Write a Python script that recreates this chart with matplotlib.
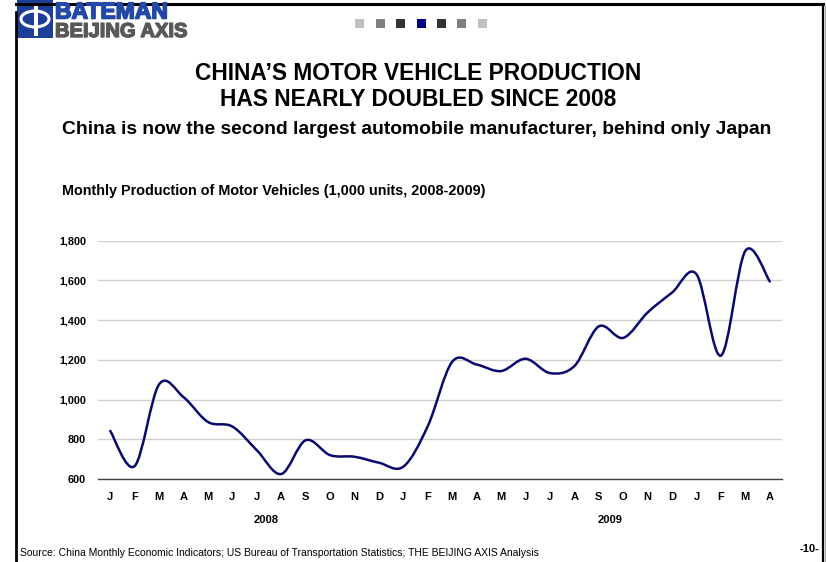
import numpy as np
import matplotlib.pyplot as plt
import matplotlib.patheffects as pe
from matplotlib.path import Path
from matplotlib.patches import PathPatch, Rectangle, Ellipse
from matplotlib.lines import Line2D

plt.rcParams['font.family'] = ['Liberation Sans', 'DejaVu Sans']

# monthly production of motor vehicles, 1,000 units
months = ['J', 'F', 'M', 'A', 'M', 'J', 'J', 'A', 'S', 'O', 'N', 'D',
          'J', 'F', 'M', 'A', 'M', 'J', 'J', 'A', 'S', 'O', 'N', 'D',
          'J', 'F', 'M', 'A']
production = [842, 665, 1076, 1012, 887, 864, 745, 625, 795, 720, 712, 682,
              662, 866, 1190, 1176, 1143, 1205, 1133, 1168, 1368, 1310, 1438, 1538,
              1630, 1221, 1748, 1594]
yticks = [600, 800, 1000, 1200, 1400, 1600, 1800]
years = ['2008', '2009']
year_pos = [6.4, 20.45]


def smooth_path(x, y):
    # bezier segments through every point (excel-like smoothed line)
    pts = np.column_stack([x, y]).astype(float)
    n = len(pts)
    verts = [pts[0]]
    codes = [Path.MOVETO]
    for i in range(n - 1):
        p0 = pts[i - 1] if i > 0 else pts[i]
        p1 = pts[i]
        p2 = pts[i + 1]
        p3 = pts[i + 2] if i + 2 < n else pts[i + 1]
        c1 = p1 + (p2 - p0) / 6.0
        c2 = p2 - (p3 - p1) / 6.0
        verts += [c1, c2, p2]
        codes += [Path.CURVE4] * 3
    return Path(verts, codes)


W, H = 826, 562
fig = plt.figure(figsize=(W / 100, H / 100), dpi=100)


def fx(px):
    return px / W


def fy(py):
    return 1 - py / H


# frame
fig.add_artist(Line2D([fx(16), fx(16)], [fy(12), fy(561)], color='black', lw=2))
fig.add_artist(Line2D([fx(16), fx(823)], [fy(4), fy(4)], color='black', lw=2.2))
fig.add_artist(Line2D([fx(823), fx(823)], [fy(4), fy(561)], color='black', lw=1.6))
fig.add_artist(Line2D([fx(825), fx(825)], [fy(6), fy(561)], color='#a0a0a0', lw=1))

# logo
fig.add_artist(Rectangle((0, fy(40)), fx(192), fy(0) - fy(40), facecolor='white', edgecolor='none'))
fig.add_artist(Rectangle((fx(17), fy(38)), fx(53) - fx(17), fy(0) - fy(38), facecolor='#1d3f9a', edgecolor='none'))
fig.add_artist(Ellipse((fx(35), fy(19)), fx(28), fy(0) - fy(16), facecolor='none', edgecolor='white', lw=2.2))
fig.add_artist(Rectangle((fx(33.5), fy(36)), fx(4), fy(0) - fy(33), facecolor='white', edgecolor='none'))
fig.text(fx(55), fy(18.5), 'BATEMAN', fontsize=16.5, fontweight='bold', color='#2448a8', va='baseline', ha='left',
         path_effects=[pe.withStroke(linewidth=1.2, foreground='#2448a8')])
fig.text(fx(55), fy(37), 'BEIJING AXIS', fontsize=14.5, fontweight='bold', color='#585858', va='baseline', ha='left',
         path_effects=[pe.withStroke(linewidth=1.0, foreground='#585858')])

# page squares
sq_colors = ['#c0c0c0', '#808080', '#333333', '#000080', '#333333', '#808080', '#c0c0c0']
for k, c in enumerate(sq_colors):
    x0 = 355 + k * 20.5
    fig.add_artist(Rectangle((fx(x0), fy(28)), fx(9), fy(0) - fy(9), facecolor=c, edgecolor='none'))

# titles
fig.text(fx(418.5), fy(74), 'CHINA\u2019S MOTOR VEHICLE PRODUCTION', fontsize=16.4, fontweight='bold', ha='center', va='center')
fig.text(fx(418.5), fy(100), 'HAS NEARLY DOUBLED SINCE 2008', fontsize=16.4, fontweight='bold', ha='center', va='center')
fig.text(fx(417), fy(130), 'China is now the second largest automobile manufacturer, behind only Japan',
         fontsize=13.9, fontweight='bold', ha='center', va='center')
fig.text(fx(62), fy(191.5), 'Monthly Production of Motor Vehicles (1,000 units, 2008-2009)',
         fontsize=10.4, fontweight='bold', ha='left', va='center')

# chart
ax = fig.add_axes([fx(98), fy(479), fx(782) - fx(98), fy(240.5) - fy(479)])
x = np.arange(len(months))
ax.add_patch(PathPatch(smooth_path(x, production), facecolor='none', edgecolor='#0a0a6e', lw=1.8,
                       capstyle='round', joinstyle='round', zorder=3))
ax.set_xlim(-0.5, len(months) - 0.5)
ax.set_ylim(600, 1800)
ax.set_yticks(yticks)
ax.set_yticklabels(['{:,}'.format(v) for v in yticks], fontsize=7.8, fontweight='bold')
ax.set_xticks(x)
ax.set_xticklabels(months, fontsize=8, fontweight='bold')
ax.tick_params(axis='y', length=0, pad=8.6)
ax.tick_params(axis='x', length=0, pad=9.5)
ax.grid(axis='y', color='#cfcfcf', lw=1)
ax.set_axisbelow(True)
for s in ['top', 'right', 'left']:
    ax.spines[s].set_visible(False)
ax.spines['bottom'].set_color('#404040')
ax.spines['bottom'].set_linewidth(1)
ax.spines['bottom'].set_zorder(4)

for yr, p in zip(years, year_pos):
    ax.text(p, -0.172, yr, transform=ax.get_xaxis_transform(), fontsize=8, fontweight='bold',
            ha='center', va='center')

# footer
fig.text(fx(20), fy(553), 'Source: China Monthly Economic Indicators; US Bureau of Transportation Statistics; THE BEIJING AXIS Analysis',
         fontsize=7.45, ha='left', va='center')
fig.text(fx(819), fy(549), '-10-', fontsize=8, fontweight='bold', ha='right', va='center')

fig.savefig('out.png', dpi=100)
